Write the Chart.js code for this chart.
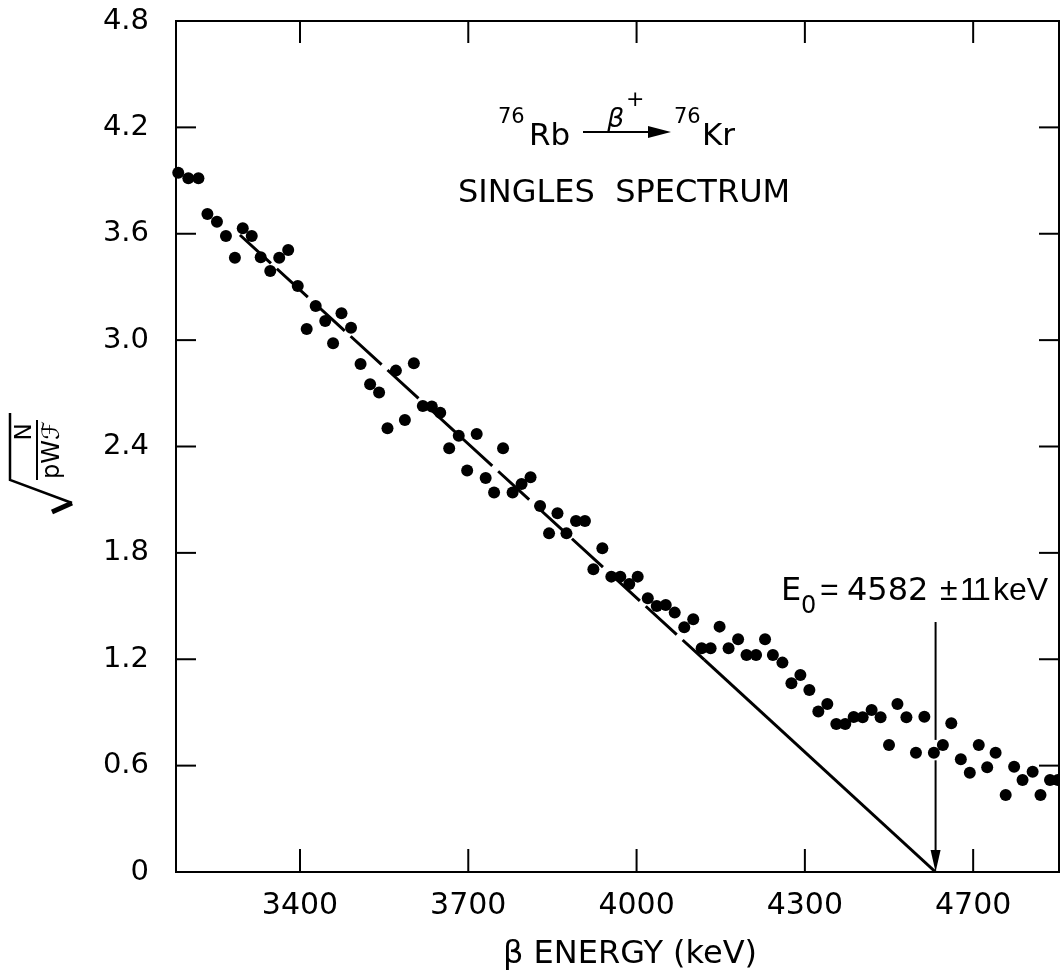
<!DOCTYPE html>
<html>
<head>
<meta charset="utf-8">
<script src="https://cdn.jsdelivr.net/npm/chart.js@4.4.0/dist/chart.umd.min.js"></script>
<style>
  html, body { margin: 0; padding: 0; background: #fff; }
  #chart { display: block; }
</style>
</head>
<body>
<canvas id="chart" width="1060" height="973"></canvas>
<script>
// beta energy (keV) of each channel
const energies = [
  3183, 3201, 3219, 3235, 3252, 3268, 3284, 3298, 3314, 3330,
  3347, 3363, 3379, 3396, 3412, 3428, 3445, 3459, 3474, 3491,
  3508, 3525, 3541, 3556, 3571, 3587, 3603, 3619, 3635, 3650,
  3666, 3683, 3698, 3715, 3731, 3746, 3762, 3779, 3795, 3811,
  3828, 3844, 3859, 3875, 3892, 3908, 3923, 3939, 3955, 3971,
  3987, 4002, 4020, 4036, 4052, 4068, 4085, 4101, 4116, 4132,
  4148, 4164, 4181, 4196, 4213, 4229, 4243, 4260, 4276, 4292,
  4308, 4324, 4340, 4356, 4372, 4387, 4403, 4419, 4435, 4450,
  4465, 4481, 4498, 4513, 4530, 4546, 4561, 4578, 4594, 4610,
  4625, 4640, 4658, 4673, 4688, 4706, 4720, 4737, 4751
];
// sqrt(N / pWF) for each channel
const kurieValues = [
  3.944, 3.913, 3.913, 3.712, 3.668, 3.587, 3.465, 3.631, 3.587, 3.467,
  3.390, 3.465, 3.508, 3.305, 3.063, 3.193, 3.108, 2.982, 3.151, 3.070,
  2.865, 2.751, 2.704, 2.503, 2.828, 2.550, 2.869, 2.629, 2.625, 2.591,
  2.390, 2.461, 2.264, 2.471, 2.222, 2.140, 2.390, 2.140, 2.189, 2.226,
  2.064, 1.910, 2.023, 1.910, 1.980, 1.980, 1.707, 1.826, 1.666, 1.666,
  1.625, 1.666, 1.544, 1.500, 1.506, 1.463, 1.380, 1.425, 1.262, 1.262,
  1.384, 1.262, 1.313, 1.224, 1.224, 1.313, 1.224, 1.181, 1.064, 1.111,
  1.027, 0.905, 0.948, 0.835, 0.835, 0.874, 0.873, 0.914, 0.873, 0.716,
  0.948, 0.873, 0.673, 0.876, 0.673, 0.716, 0.839, 0.636, 0.560, 0.716,
  0.591, 0.673, 0.434, 0.594, 0.519, 0.566, 0.434, 0.519, 0.519
];

// straight-line fit: dashed part, then solid part down to the endpoint
const fitDashedX = [3293, 4121];
const fitDashedY = [3.593, 1.196];
const fitSolidX = [4121, 4533];
const fitSolidY = [1.196, 0];

// endpoint arrow
const endpointEnergy = 4533;
const arrowTop = 1.41;
const arrowGap = [0.745, 0.63];

const xTicks = [3400, 3700, 4000, 4300, 4600];
const xTickLabels = ["3400", "3700", "4000", "4300", "4700"];
const yTicks = [0, 0.6, 1.2, 1.8, 2.4, 3.0, 3.6, 4.2, 4.8];
const yTickLabels = ["0", "0.6", "1.2", "1.8", "2.4", "3.0", "3.6", "4.2", "4.8"];

const FONT = "'DejaVu Sans', 'Liberation Sans', sans-serif";
const FONT_NARROW = "'Liberation Sans', Arial, sans-serif";

function toPoints(xs, ys) {
  return xs.map((v, i) => ({ x: v, y: ys[i] }));
}

function line(ctx, x1, y1, x2, y2) {
  ctx.beginPath();
  ctx.moveTo(x1, y1);
  ctx.lineTo(x2, y2);
  ctx.stroke();
}

const decorations = {
  id: "decorations",
  afterDraw(chart) {
    const { ctx, chartArea: a, scales: { x, y } } = chart;
    ctx.save();
    ctx.strokeStyle = "#000";
    ctx.fillStyle = "#000";

    // frame and inward ticks on all sides
    ctx.lineWidth = 2;
    ctx.strokeRect(a.left, a.top, a.right - a.left, a.bottom - a.top);
    xTicks.forEach((v) => {
      const px = x.getPixelForValue(v);
      line(ctx, px, a.bottom, px, a.bottom - 23);
      line(ctx, px, a.top, px, a.top + 22);
    });
    yTicks.slice(1, -1).forEach((v) => {
      const py = y.getPixelForValue(v);
      line(ctx, a.left, py, a.left + 20, py);
      line(ctx, a.right, py, a.right - 20, py);
    });

    // endpoint arrow
    const ax = x.getPixelForValue(endpointEnergy);
    const tip = y.getPixelForValue(0);
    line(ctx, ax, y.getPixelForValue(arrowTop), ax, y.getPixelForValue(arrowGap[0]));
    line(ctx, ax, y.getPixelForValue(arrowGap[1]), ax, tip - 18);
    ctx.beginPath();
    ctx.moveTo(ax, tip);
    ctx.lineTo(ax - 5, tip - 22);
    ctx.lineTo(ax + 5, tip - 22);
    ctx.closePath();
    ctx.fill();

    // reaction label
    ctx.textBaseline = "alphabetic";
    ctx.textAlign = "left";
    ctx.font = "21px " + FONT;
    ctx.fillText("76", 498, 123);
    ctx.fillText("76", 674, 123);
    ctx.font = "31px " + FONT;
    ctx.fillText("Rb", 529, 145);
    ctx.fillText("Kr", 702, 145);
    ctx.font = "italic 27px " + FONT;
    ctx.fillText("\u03B2", 607, 127);
    ctx.font = "22px " + FONT;
    ctx.fillText("+", 626, 106);
    ctx.lineWidth = 2;
    line(ctx, 583, 132, 655, 132);
    ctx.beginPath();
    ctx.moveTo(671, 132);
    ctx.lineTo(648, 126);
    ctx.lineTo(648, 138);
    ctx.closePath();
    ctx.fill();

    ctx.font = "32px " + FONT;
    ctx.fillText("SINGLES  SPECTRUM", 458, 202);

    // endpoint label, set piece by piece to fit like the original lettering
    ctx.font = "32px " + FONT;
    ctx.fillText("E", 781, 600);
    ctx.fillText("4582", 847, 600);
    ctx.font = "24px " + FONT;
    ctx.fillText("0", 801, 613);
    ctx.font = "32px " + FONT_NARROW;
    ctx.fillText("=", 820, 600);
    ctx.fillText("\u00B1", 940, 600);
    ctx.fillText("1", 960, 600);
    ctx.fillText("1", 973, 600);
    ctx.fillText("keV", 993, 600);

    // x axis title
    ctx.textAlign = "center";
    ctx.font = "32px " + FONT;
    ctx.fillText("\u03B2 ENERGY (keV)", 630, 963);

    // y axis title: sqrt(N / pWF), rotated
    ctx.lineWidth = 2.5;
    ctx.beginPath();
    ctx.moveTo(10, 413);
    ctx.lineTo(10, 480);
    ctx.lineTo(72, 503);
    ctx.stroke();
    ctx.lineWidth = 5;
    line(ctx, 72, 503, 52, 512);
    ctx.save();
    ctx.translate(37, 450);
    ctx.rotate(-Math.PI / 2);
    ctx.lineWidth = 2;
    line(ctx, -30, 0, 30, 0);
    ctx.textBaseline = "middle";
    ctx.font = "23px " + FONT;
    ctx.fillText("N", 18, -12);
    ctx.font = "24px " + FONT;
    ctx.fillText("pW\u2131", 0, 16);
    ctx.restore();

    ctx.restore();
  }
};

new Chart(document.getElementById("chart"), {
  type: "scatter",
  data: {
    datasets: [
      {
        label: "data",
        data: toPoints(energies, kurieValues),
        backgroundColor: "#000",
        borderWidth: 0,
        pointRadius: 6,
        clip: false,
        order: 0,
      },
      {
        label: "fit dashed",
        data: toPoints(fitDashedX, fitDashedY),
        showLine: true,
        borderColor: "#000",
        borderWidth: 3,
        borderDash: [42, 8],
        pointRadius: 0,
        order: 1,
      },
      {
        label: "fit solid",
        data: toPoints(fitSolidX, fitSolidY),
        showLine: true,
        borderColor: "#000",
        borderWidth: 3,
        pointRadius: 0,
        order: 1,
      },
    ],
  },
  options: {
    responsive: false,
    animation: false,
    devicePixelRatio: 1,
    layout: { autoPadding: false, padding: { top: 21, right: 1, left: 0, bottom: 0 } },
    plugins: {
      legend: { display: false },
      tooltip: { enabled: false },
    },
    scales: {
      x: {
        type: "linear",
        min: 3179,
        max: 4753,
        afterBuildTicks: (s) => { s.ticks = xTicks.map((v) => ({ value: v })); },
        afterFit: (s) => {
          s.height = 101;
          s.paddingLeft = 0;
          s.paddingRight = 0;
        },
        ticks: {
          callback: (v, i) => xTickLabels[i],
          font: { family: FONT, size: 30 },
          color: "#000",
          padding: 16,
          maxRotation: 0,
          autoSkip: false,
        },
        grid: { display: false, drawTicks: false },
        border: { display: false },
      },
      y: {
        min: 0,
        max: 4.8,
        afterBuildTicks: (s) => { s.ticks = yTicks.map((v) => ({ value: v })); },
        afterFit: (s) => {
          s.width = 176;
          s.paddingTop = 0;
          s.paddingBottom = 0;
        },
        ticks: {
          callback: (v, i) => yTickLabels[i],
          font: { family: FONT, size: 29 },
          color: "#000",
          padding: 27,
          autoSkip: false,
        },
        grid: { display: false, drawTicks: false },
        border: { display: false },
      },
    },
  },
  plugins: [decorations],
});
</script>
</body>
</html>
